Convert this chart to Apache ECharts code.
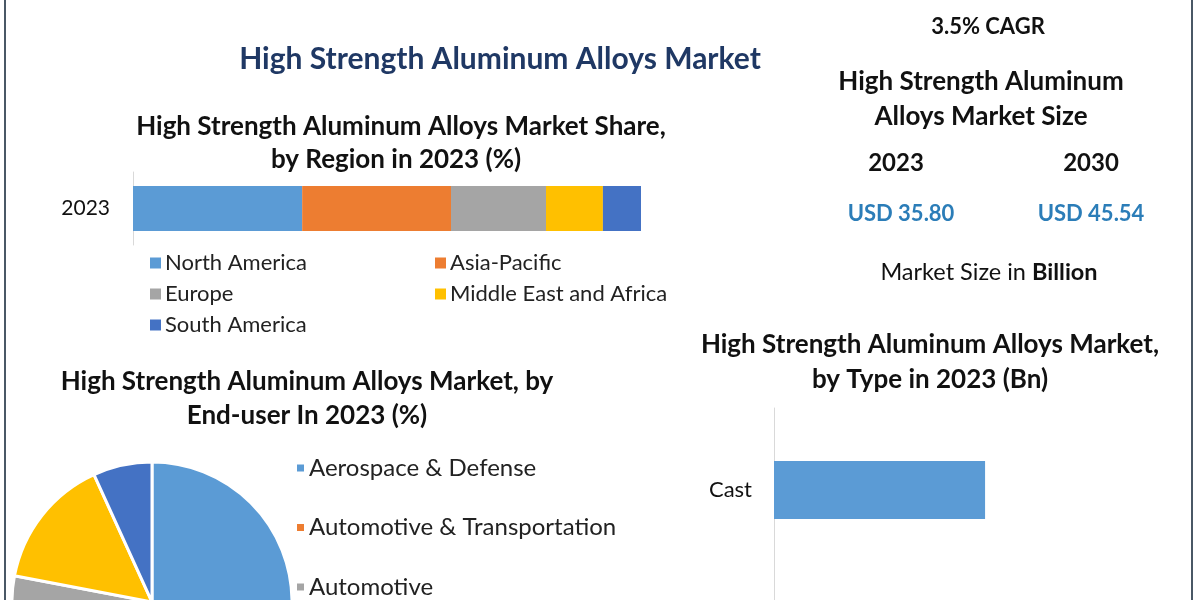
<!DOCTYPE html>
<html>
<head>
<meta charset="utf-8">
<script src="https://cdn.jsdelivr.net/npm/echarts@6/dist/echarts.min.js"></script>
<style>
html,body{margin:0;padding:0;background:#fff;}
#c{width:1200px;height:600px;}
</style>
</head>
<body>
<div id="c"></div>
<script>
// ---- Data ----
var regionYear = ['2023'];
var regionNames = ['North America', 'Asia-Pacific', 'Europe', 'Middle East and Africa', 'South America'];
var regionShares = [33.3, 29.3, 18.7, 11.2, 7.5];
var regionColors = ['#5b9bd5', '#ed7d31', '#a5a5a5', '#ffc000', '#4472c4'];

var endUserNames = ['Aerospace & Defense', 'Automotive & Transportation', 'Automotive', 'Marine', 'Others'];
var endUserShares = [38, 25, 15, 15.2, 6.8];

var typeNames = ['Cast', 'Wrought'];
var typeValues = [13.6, 22.2];

var cagrText = '3.5% CAGR';
var sizeYears = ['2023', '2030'];
var sizeValues = ['USD 35.80', 'USD 45.54'];

var FONT = 'Lato, "Noto Sans", sans-serif';

var chart = echarts.init(document.getElementById('c'), null, {renderer: 'canvas'});

var regionSeries = regionNames.map(function (n, i) {
  return {
    name: n, type: 'bar', stack: 'r', xAxisIndex: 0, yAxisIndex: 0,
    barWidth: 45, data: [regionShares[i]],
    itemStyle: {color: regionColors[i]}, silent: true
  };
});

function txt(x, y, text, size, weight, color, align) {
  return {type: 'text', x: x, y: y, style: {text: text, font: weight + ' ' + size + 'px ' + FONT, fill: color || '#111', textAlign: align || 'center', textVerticalAlign: 'middle'}};
}

var option = {
  animation: false,
  backgroundColor: '#ffffff',
  textStyle: {fontFamily: FONT},
  grid: [
    {left: 133, top: 172, width: 508, height: 73, containLabel: false, outerBoundsMode: 'none'},
    {left: 774, top: 408, width: 388, height: 328, containLabel: false, outerBoundsMode: 'none'}
  ],
  xAxis: [
    {gridIndex: 0, type: 'value', min: 0, max: 100, show: false},
    {gridIndex: 1, type: 'value', min: 0, max: 25, show: false}
  ],
  yAxis: [
    {gridIndex: 0, type: 'category', data: regionYear,
     axisLine: {lineStyle: {color: '#d9d9d9', width: 1}}, axisTick: {show: false},
     axisLabel: {color: '#111', fontSize: 21, fontFamily: FONT, margin: 23}},
    {gridIndex: 1, type: 'category', data: typeNames, inverse: true,
     axisLine: {lineStyle: {color: '#d9d9d9', width: 1}}, axisTick: {show: false},
     axisLabel: {color: '#111', fontSize: 22, fontFamily: FONT, margin: 22}}
  ],
  legend: [
    {data: [regionNames[0], regionNames[2], regionNames[4]], orient: 'vertical', left: 150, top: 252,
     itemWidth: 11, itemHeight: 11, itemGap: 9, icon: 'rect', padding: 0, height: 150,
     textStyle: {fontSize: 22, color: '#222', fontFamily: FONT, padding: [0, 0, 0, -1]}},
    {data: [regionNames[1], regionNames[3]], orient: 'vertical', left: 435, top: 252,
     itemWidth: 11, itemHeight: 11, itemGap: 9, icon: 'rect', padding: 0, height: 150,
     textStyle: {fontSize: 22, color: '#222', fontFamily: FONT, padding: [0, 0, 0, -1]}},
    {data: endUserNames.slice(0, 3), orient: 'vertical', left: 295, top: 456,
     itemWidth: 9, itemHeight: 9, itemGap: 35.5, icon: 'rect', padding: 0, height: 300,
     textStyle: {fontSize: 24, color: '#222', fontFamily: FONT, padding: [0, 0, 0, -1]}}
  ],
  series: regionSeries.concat([
    {type: 'bar', xAxisIndex: 1, yAxisIndex: 1, data: typeValues, barWidth: 58,
     itemStyle: {color: '#5b9bd5'}, silent: true},
    {type: 'pie', center: [152, 602], radius: 140, startAngle: 90, clockwise: true,
     label: {show: false}, labelLine: {show: false}, silent: true,
     itemStyle: {borderColor: '#ffffff', borderWidth: 3},
     data: endUserNames.map(function (n, i) {
       return {name: n, value: endUserShares[i], itemStyle: {color: regionColors[i]}};
     })}
  ]),
  graphic: [
    {type: 'rect', shape: {x: 4, y: 0, width: 2, height: 600}, style: {fill: '#4a5866'}},
    {type: 'rect', shape: {x: 1191, y: 0, width: 2, height: 600}, style: {fill: '#4a5866'}},
    txt(500, 59, 'High Strength Aluminum Alloys Market', 30, 'bold', '#1f3864'),
    txt(401, 127, 'High Strength Aluminum Alloys Market Share,', 26, 'bold', '#111'),
    txt(396, 160, 'by Region in 2023 (%)', 26, 'bold', '#111'),
    txt(988, 27, cagrText, 22, 'bold', '#111'),
    txt(981, 82, 'High Strength Aluminum', 26, 'bold', '#111'),
    txt(981, 117, 'Alloys Market Size', 26, 'bold', '#111'),
    txt(896, 163, sizeYears[0], 24, 'bold', '#111'),
    txt(1091, 163, sizeYears[1], 24, 'bold', '#111'),
    txt(901, 214, sizeValues[0], 22, 'bold', '#2b7db8'),
    txt(1091, 214, sizeValues[1], 22, 'bold', '#2b7db8'),
    {type: 'text', x: 989, y: 272, style: {
      text: '{n|Market Size in }{b|Billion}', textAlign: 'center', textVerticalAlign: 'middle',
      rich: {n: {font: 'normal 23.5px ' + FONT, fill: '#111'}, b: {font: 'bold 23.5px ' + FONT, fill: '#111'}}
    }},
    txt(307, 382, 'High Strength Aluminum Alloys Market, by', 26, 'bold', '#111'),
    txt(307, 416, 'End-user In 2023 (%)', 26, 'bold', '#111'),
    txt(930, 345, 'High Strength Aluminum Alloys Market,', 26, 'bold', '#111'),
    txt(930, 380, 'by Type in 2023 (Bn)', 26, 'bold', '#111')
  ]
};
chart.setOption(option);
</script>
</body>
</html>
